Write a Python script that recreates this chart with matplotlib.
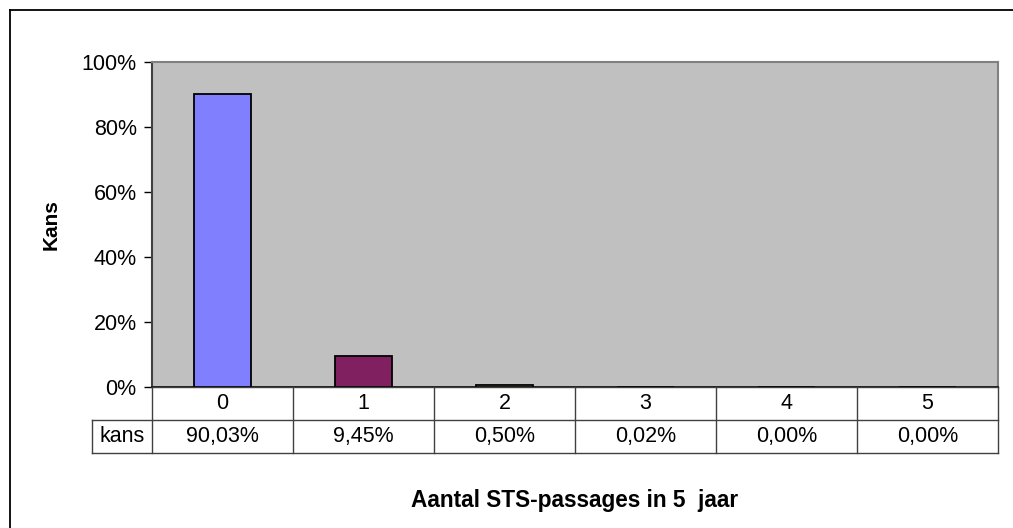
import numpy as np
import matplotlib
matplotlib.use("Agg")
import matplotlib.pyplot as plt
from matplotlib.lines import Line2D

plt.rcParams["font.family"] = ["Liberation Sans", "DejaVu Sans"]

categories = ["0", "1", "2", "3", "4", "5"]
kans = [90.03, 9.45, 0.50, 0.02, 0.00, 0.00]
bar_colors = ["#8080FF", "#802060", "#FFFFCC", "#00FFFF", "#660066", "#FF8080"]
row_label = "kans"
yticks = [0, 20, 40, 60, 80, 100]

FS = 15.5
W, H = 1013, 528
fig = plt.figure(figsize=(W / 100, H / 100), dpi=100)

# plot area in pixel coords
x0, x1, y_top, y_base = 152, 998, 62, 387
row_h = 33
lab_w = 60

ax = fig.add_axes([x0 / W, 1 - y_base / H, (x1 - x0) / W, (y_base - y_top) / H])
ax.set_facecolor("#C0C0C0")
x = np.arange(len(categories))
ax.bar(x, kans, width=0.41, color=bar_colors, edgecolor="black", linewidth=1.3, zorder=3)
ax.set_xlim(-0.5, len(categories) - 0.5)
ax.set_ylim(0, 100)
ax.set_yticks(yticks)
ax.set_yticklabels([f"{t}%" for t in yticks], fontsize=FS)
ax.set_xticks([])
ax.tick_params(axis="y", direction="out", length=6, width=1, pad=5)
for s in ("top", "right"):
    ax.spines[s].set_color("#808080")
    ax.spines[s].set_linewidth(1.5)
ax.spines["left"].set_color("#404040")
ax.spines["left"].set_linewidth(1.5)
ax.spines["bottom"].set_color("black")
ax.spines["bottom"].set_linewidth(1.2)
ax.set_ylabel("Kans", fontsize=15, fontweight="bold", labelpad=15)

# data table below the plot area
tab = fig.add_axes([(x0 - lab_w) / W, 1 - (y_base + 2 * row_h) / H,
                    (x1 - x0 + lab_w) / W, 2 * row_h / H])
tab.axis("off")
cw = (x1 - x0) / len(categories)
left = -0.5 - lab_w / cw
tab.set_xlim(left, len(categories) - 0.5)
tab.set_ylim(0, 2)
lc = dict(color="#404040", lw=1.0, clip_on=False)
tab.plot([-0.5, len(categories) - 0.5], [2, 2], **lc)
tab.plot([left, len(categories) - 0.5], [1, 1], **lc)
tab.plot([left, len(categories) - 0.5], [0, 0], **lc)
tab.plot([left, left], [0, 1], **lc)
for i in range(len(categories) + 1):
    tab.plot([i - 0.5, i - 0.5], [0, 2], **lc)
for i, (c, v) in enumerate(zip(categories, kans)):
    tab.text(i, 1.5, c, ha="center", va="center", fontsize=FS)
    tab.text(i, 0.5, f"{v:.2f}%".replace(".", ","), ha="center", va="center", fontsize=FS)
tab.text((left - 0.5) / 2, 0.5, row_label, ha="center", va="center", fontsize=FS)

fig.text((x0 + x1) / 2 / W, 1 - 500 / H, "Aantal STS-passages in 5  jaar",
         ha="center", va="center", fontsize=16.3, fontweight="bold")

# chart-area border (top and left visible)
fig.add_artist(Line2D([10 / W, 1.0], [1 - 10 / H, 1 - 10 / H], color="black", lw=1.3))
fig.add_artist(Line2D([10 / W, 10 / W], [1 - 10 / H, 0.0], color="black", lw=1.3))

fig.savefig("out.png", dpi=100, facecolor="white")
